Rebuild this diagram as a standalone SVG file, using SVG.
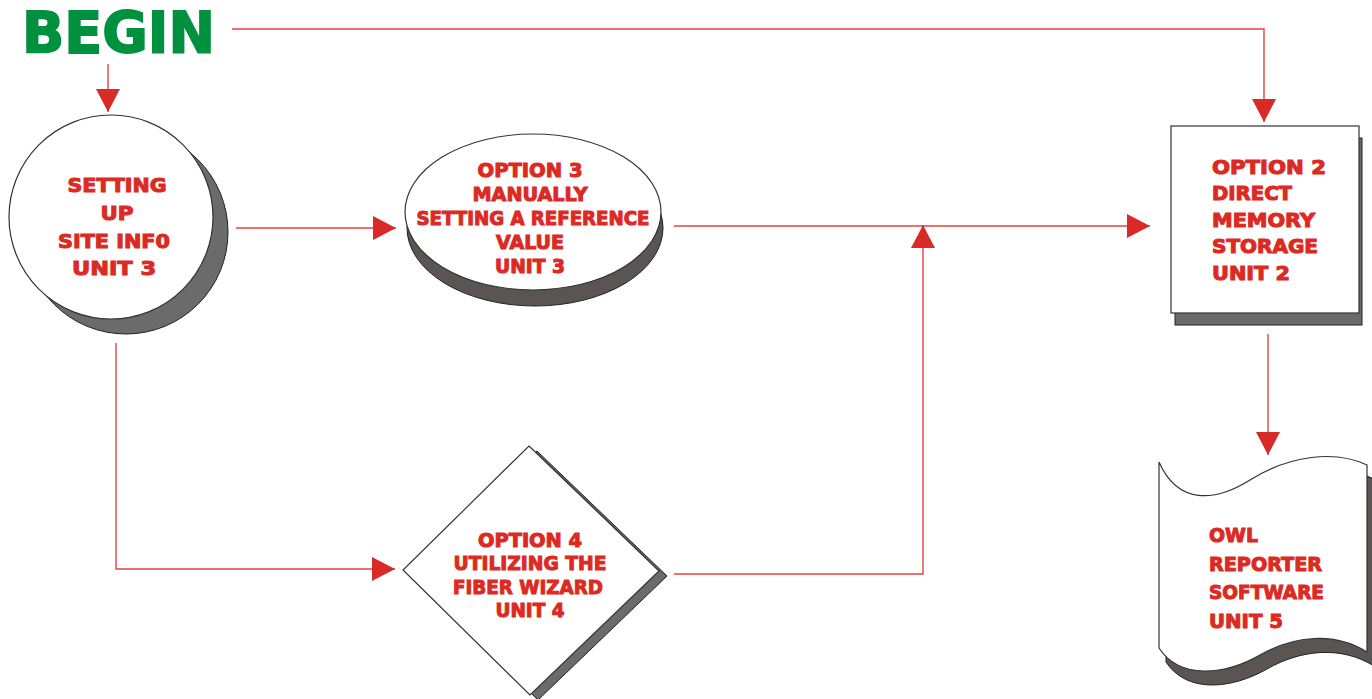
<svg xmlns="http://www.w3.org/2000/svg" width="1372" height="699" viewBox="0 0 1372 699">
<style>
.t{font-family:"DejaVu Sans","Liberation Sans",sans-serif;font-weight:bold;fill:#dc2a23;stroke:#dc2a23;stroke-width:1.1;font-size:20px}
.c{stroke:#e8403f;stroke-width:1.4;fill:none}
.shape{fill:#fff;stroke:#333;stroke-width:1.2}
.sh{fill:#6b6b6b;stroke:#222;stroke-width:1}
.sh2{fill:#5a5553;stroke:#222;stroke-width:1}
</style>
<defs>
<marker id="ah" markerUnits="userSpaceOnUse" markerWidth="24" markerHeight="24" refX="23" refY="12" orient="auto" viewBox="0 0 24 24">
<path d="M0,0 L23,12 L0,24 Z" fill="#d92a27"/>
</marker>
</defs>
<rect width="1372" height="699" fill="#fff"/>

<g id="begin">
<text x="22" y="53" font-family="DejaVu Sans,sans-serif" font-weight="bold" font-size="57" fill="#00913f" stroke="#00913f" stroke-width="1.8" textLength="193" lengthAdjust="spacingAndGlyphs">BEGIN</text>
</g>

<g id="connectors">
<path class="c" d="M108,64 L108,112" marker-end="url(#ah)"/>
<path class="c" d="M232,29 L1264,29 L1264,122" marker-end="url(#ah)"/>
<path class="c" d="M236,228 L396,228" marker-end="url(#ah)"/>
<path class="c" d="M674,226 L1150,226" marker-end="url(#ah)"/>
<path class="c" d="M674,574 L923,574 L923,225" marker-end="url(#ah)"/>
<path class="c" d="M116,343 L116,569 L395,569" marker-end="url(#ah)"/>
<path class="c" d="M1268,334 L1268,455" marker-end="url(#ah)"/>
</g>

<g id="setting-up">
<circle class="sh" cx="126" cy="232" r="102"/>
<circle class="shape" cx="111" cy="217" r="102"/>
<text class="t" font-size="21" text-anchor="middle" x="117" y="192" textLength="99" lengthAdjust="spacingAndGlyphs">SETTING</text>
<text class="t" font-size="21" text-anchor="middle" x="117" y="220" textLength="33" lengthAdjust="spacingAndGlyphs">UP</text>
<text class="t" font-size="21" text-anchor="middle" x="114" y="248" textLength="112" lengthAdjust="spacingAndGlyphs">SITE INF0</text>
<text class="t" font-size="21" text-anchor="middle" x="114" y="275" textLength="84" lengthAdjust="spacingAndGlyphs">UNIT 3</text>
</g>

<g id="option3">
<ellipse class="sh2" cx="535" cy="228" rx="128" ry="78"/>
<ellipse class="shape" cx="533" cy="212" rx="128" ry="78"/>
<text class="t" text-anchor="middle" x="530" y="177" textLength="105" lengthAdjust="spacingAndGlyphs">OPTION 3</text>
<text class="t" text-anchor="middle" x="530" y="201" textLength="115" lengthAdjust="spacingAndGlyphs">MANUALLY</text>
<text class="t" text-anchor="middle" x="533" y="225" textLength="233" lengthAdjust="spacingAndGlyphs">SETTING A REFERENCE</text>
<text class="t" text-anchor="middle" x="530" y="249" textLength="68" lengthAdjust="spacingAndGlyphs">VALUE</text>
<text class="t" text-anchor="middle" x="530" y="273" textLength="70" lengthAdjust="spacingAndGlyphs">UNIT 3</text>
</g>

<g id="option2">
<rect class="sh" x="1175" y="138" width="187" height="187"/>
<rect class="shape" x="1171" y="126" width="188" height="187"/>
<text class="t" font-size="21" x="1212" y="174" textLength="114" lengthAdjust="spacingAndGlyphs">OPTION 2</text>
<text class="t" font-size="21" x="1212" y="200" textLength="80" lengthAdjust="spacingAndGlyphs">DIRECT</text>
<text class="t" font-size="21" x="1212" y="227" textLength="103" lengthAdjust="spacingAndGlyphs">MEMORY</text>
<text class="t" font-size="21" x="1212" y="253" textLength="106" lengthAdjust="spacingAndGlyphs">STORAGE</text>
<text class="t" font-size="21" x="1212" y="280" textLength="78" lengthAdjust="spacingAndGlyphs">UNIT 2</text>
</g>

<g id="option4">
<polygon class="sh" points="537,451 667,576 538,700 410,575"/>
<polygon class="shape" points="529,446 659,571 530,695 403,570"/>
<text class="t" text-anchor="middle" x="530" y="547" textLength="104" lengthAdjust="spacingAndGlyphs">OPTION 4</text>
<text class="t" text-anchor="middle" x="530" y="570" textLength="153" lengthAdjust="spacingAndGlyphs">UTILIZING THE</text>
<text class="t" text-anchor="middle" x="528" y="594" textLength="150" lengthAdjust="spacingAndGlyphs">FIBER WIZARD</text>
<text class="t" text-anchor="middle" x="530" y="617" textLength="69" lengthAdjust="spacingAndGlyphs">UNIT 4</text>
</g>

<g id="owl-reporter">
<path class="sh2" transform="translate(7,14)" d="M1159,462 C1178,505 1215,502 1250,480 C1290,455 1335,450 1367,465 L1367,652 C1335,632 1295,635 1260,655 C1225,675 1180,680 1159,648 Z"/>
<path class="shape" d="M1159,462 C1178,505 1215,502 1250,480 C1290,455 1335,450 1367,465 L1367,652 C1335,632 1295,635 1260,655 C1225,675 1180,680 1159,648 Z"/>
<text class="t" font-size="22" x="1209" y="542" textLength="49" lengthAdjust="spacingAndGlyphs">OWL</text>
<text class="t" font-size="22" x="1209" y="571" textLength="113" lengthAdjust="spacingAndGlyphs">REPORTER</text>
<text class="t" font-size="22" x="1209" y="599" textLength="115" lengthAdjust="spacingAndGlyphs">SOFTWARE</text>
<text class="t" font-size="22" x="1209" y="628" textLength="74" lengthAdjust="spacingAndGlyphs">UNIT 5</text>
</g>
</svg>
